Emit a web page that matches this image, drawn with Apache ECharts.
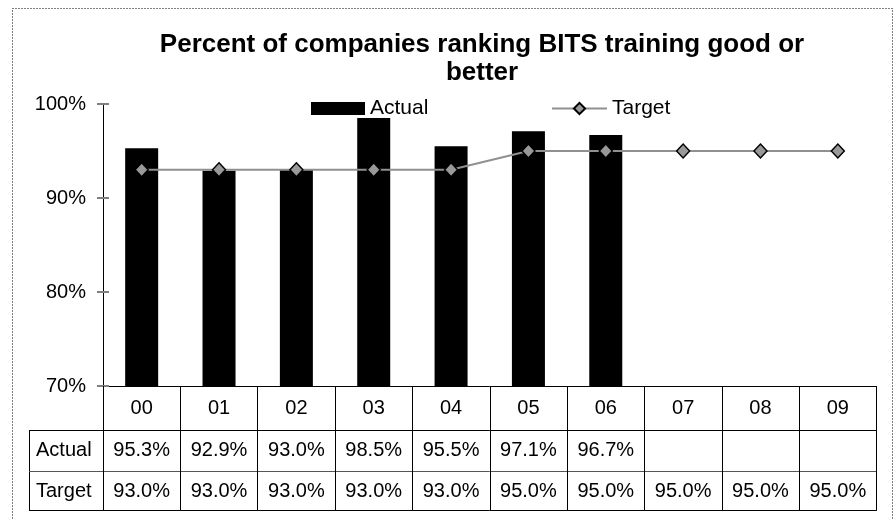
<!DOCTYPE html>
<html>
<head>
<meta charset="utf-8">
<script src="https://cdn.jsdelivr.net/npm/echarts@6/dist/echarts.min.js"></script>
<style>
html,body{margin:0;padding:0;background:#fff;}
#chart{width:896px;height:519px;}
</style>
</head>
<body>
<div id="chart"></div>
<script>
// chart values
var years = ['00', '01', '02', '03', '04', '05', '06', '07', '08', '09'];
var actual = [95.3, 92.9, 93.0, 98.5, 95.5, 97.1, 96.7, null, null, null];
var target = [93.0, 93.0, 93.0, 93.0, 93.0, 95.0, 95.0, 95.0, 95.0, 95.0];
var yMin = 70, yMax = 100, yStep = 10;

var font = 'Liberation Sans, Arial, sans-serif';

//表格里的文字
function pct(v){
    if(v == null){
        return '';
    }
    return v.toFixed(1) + '%';
}
var actualText = actual.map(pct);
var targetText = target.map(pct);

function tableAxis(data, offset, margin, showLabel, color){
    return {
        type: 'category',
        gridIndex: 0,
        position: 'bottom',
        offset: offset,
        data: data,
        axisLine: {show: true, lineStyle: {color: color, width: 1}},
        axisTick: {show: false},
        axisLabel: {show: showLabel, interval: 0, margin: margin, color: '#000', fontSize: 20, fontFamily: font}
    };
}

var myChart = echarts.init(document.getElementById('chart'));
var option = {
    animation: false,
    backgroundColor: '#fff',
    title: {
        text: 'Percent of companies ranking BITS training good or\nbetter',
        left: 477,
        top: 26,
        textAlign: 'center',
        textStyle: {fontSize: 26, fontWeight: 'bold', fontFamily: font, color: '#000', lineHeight: 28}
    },
    legend: [{
        data: [{name: 'Actual', icon: 'rect'}],
        left: 306,
        top: 93,
        selectedMode: false,
        itemWidth: 54,
        itemHeight: 13,
        textStyle: {fontSize: 21, fontFamily: font, color: '#000'}
    }, {
        data: ['Target'],
        left: 546,
        top: 93,
        selectedMode: false,
        itemWidth: 55,
        itemHeight: 14,
        textStyle: {fontSize: 21, fontFamily: font, color: '#000'}
    }],
    grid: {left: 103, right: 19.5, top: 104, bottom: 133, containLabel: false},
    xAxis: [{
        type: 'category',
        data: years,
        axisLine: {show: true, lineStyle: {color: '#000', width: 1}},
        axisTick: {show: true, interval: 0, length: 124, lineStyle: {color: '#000', width: 1}},
        axisLabel: {interval: 0, margin: 12, color: '#000', fontSize: 20, fontFamily: font}
    },
        tableAxis(actualText, 44, 10, true, '#000'),
        tableAxis(targetText, 85, 10, true, '#555'),
        tableAxis(years, 124, 0, false, '#000')
    ],
    yAxis: [{
        type: 'value',
        min: yMin,
        max: yMax,
        interval: yStep,
        splitLine: {show: false},
        axisLine: {show: true, lineStyle: {color: '#000', width: 1}},
        axisTick: {show: true, length: 6, lineStyle: {color: '#808080', width: 2}},
        axisLabel: {margin: 17, color: '#000', fontSize: 20, fontFamily: font, formatter: '{value}%'}
    }, {
        type: 'value',
        position: 'left',
        min: yMin,
        max: yMax,
        interval: yStep,
        splitLine: {show: false},
        axisLine: {show: false},
        axisTick: {show: true, inside: true, length: 6, lineStyle: {color: '#808080', width: 2}},
        axisLabel: {show: false}
    }],
    series: [{
        name: 'Actual',
        type: 'bar',
        data: actual,
        barWidth: 33,
        itemStyle: {color: '#000'}
    }, {
        name: 'Target',
        type: 'line',
        data: target,
        symbol: 'diamond',
        symbolSize: [13, 14],
        lineStyle: {color: '#909090', width: 2},
        itemStyle: {color: '#999999', borderColor: '#000', borderWidth: 1.5}
    }],
    graphic: [
        {type: 'rect', shape: {x: 12.5, y: 8.5, width: 880, height: 530}, style: {fill: null, stroke: '#000', lineWidth: 1, lineDash: [1, 2]}, silent: true},
        {type: 'line', shape: {x1: 29.5, y1: 430, x2: 29.5, y2: 510}, style: {stroke: '#000', lineWidth: 1}},
        {type: 'line', shape: {x1: 29, y1: 430.5, x2: 103, y2: 430.5}, style: {stroke: '#000', lineWidth: 1}},
        {type: 'line', shape: {x1: 29, y1: 471.5, x2: 103, y2: 471.5}, style: {stroke: '#555', lineWidth: 1}},
        {type: 'line', shape: {x1: 29, y1: 510.5, x2: 103, y2: 510.5}, style: {stroke: '#000', lineWidth: 1}},
        {type: 'text', left: 36, top: 440, style: {text: 'Actual', fontSize: 20, fontFamily: font, fill: '#000'}},
        {type: 'text', left: 36, top: 481, style: {text: 'Target', fontSize: 20, fontFamily: font, fill: '#000'}}
    ]
};
myChart.setOption(option);
</script>
</body>
</html>
